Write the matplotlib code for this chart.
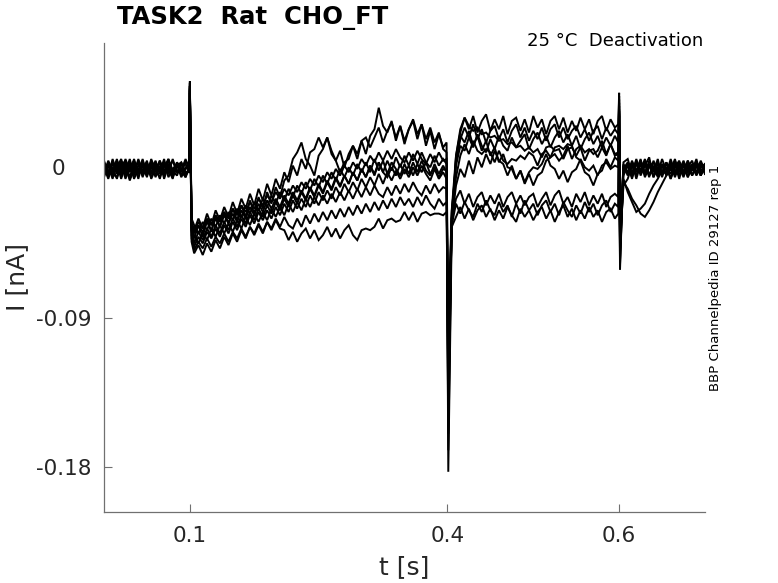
import numpy as np
import matplotlib
matplotlib.use("Agg")
import matplotlib.pyplot as plt
import matplotlib.transforms as mtransforms

# ---- sample times (s) ----
t_s = np.concatenate([
    np.round(np.arange(0.000, 0.0951, 0.005), 3),   # pre-step baseline (20)
    [0.099, 0.100, 0.102],                            # step-on transient (3)
    np.round(np.arange(0.105, 0.3951, 0.005), 3),   # test pulse (59)
    [0.399, 0.401, 0.405],                            # step transient (3)
    np.round(np.arange(0.410, 0.5951, 0.005), 3),   # deactivation step (38)
    [0.599, 0.600, 0.601, 0.605],                     # step-off transient (4)
    np.round(np.arange(0.610, 0.7001, 0.005), 3),   # post baseline (19)
])

# ---- sweep currents (pA) ----
sweep_1 = ([3, -5, 6, -2, 4, -6, 1, 5, -3, 2, -4, 6, -1, -5, 3, 0, -6, 4, -2, 5]
           + [2, 53, -38]
           + [-42, -34, -41, -31, -38, -28, -35, -26, -33, -24,
              -31, -22, -29, -19, -27, -17, -24, -14, -21, -11,
              -17, -7, -4, 6, 10, 16, 6, 2, -4, 8,
              12, 19, 11, 5, 11, 1, 9, 14, 6, 17,
              9, 20, 24, 37, 26, 22, 29, 17, 26, 15,
              24, 29, 18, 27, 14, 23, 12, 21, 13]
           + [16, -183, -38]
           + [8, 22, 31, 24, 32, 22, 29, 33, 23, 30,
              24, 32, 21, 29, 31, 23, 30, 22, 32, 25,
              30, 21, 29, 32, 24, 31, 22, 29, 23, 31,
              24, 30, 21, 29, 32, 23, 30, 25]
           + [27, 46, -61, 4]
           + [6, -3, 5, -4, 2, 7, -5, 3, -2, 4, -6, 1, 5, -3, 2, -1, 6, -4, 3])
sweep_2 = ([-4, 2, -6, 5, -1, 3, -7, 0, 4, -5, 3, -2, 5, -3, 1, 6, -4, 2, -1, -5]
           + [1, 50, -32]
           + [-37, -30, -36, -27, -34, -25, -31, -23, -29, -20,
              -27, -18, -24, -15, -22, -12, -19, -9, -16, -6,
              -12, -2, -8, 2, -4, 6, 0, 10, 12, 19,
              13, 19, 9, 5, -2, 4, 6, 14, 9, 17,
              19, 13, 19, 25, 16, 23, 28, 19, 26, 17,
              24, 30, 21, 27, 18, 25, 16, 22, 12]
           + [10, -170, -30]
           + [4, 18, 25, 19, 27, 18, 24, 16, 23, 26,
              18, 24, 16, 23, 27, 19, 25, 17, 23, 18,
              25, 17, 24, 27, 19, 25, 18, 23, 26, 19,
              24, 17, 23, 26, 18, 25, 20, 24]
           + [21, 44, -58, 2]
           + [-4, 5, -2, 6, -5, 1, 4, -3, 6, -1, 3, -5, 2, -2, 5, -4, 1, 4, -3])
sweep_3 = ([5, -3, 1, -6, 3, -2, 6, -4, 2, -1, 5, -6, 0, 4, -3, 2, -5, 3, -1, 6]
           + [0, 48, -36]
           + [-45, -38, -43, -36, -41, -34, -39, -32, -37, -30,
              -35, -28, -33, -26, -31, -24, -29, -22, -27, -20,
              -25, -18, -23, -16, -21, -14, -19, -12, -17, -10,
              -15, -8, -13, -6, -11, -4, -9, -2, -7, 0,
              -5, 2, -4, 4, -2, 5, -1, 7, 1, 8,
              2, 9, 3, 10, 4, 1, 8, 2, 6]
           + [3, -160, -25]
           + [8, 24, 31, 26, 23, 25, 21, 22, 19, 20,
              17, 18, 15, 16, 13, 14, 11, 13, 10, 12,
              7, 13, 14, 11, 12, 6, 12, 13, 8, 13,
              5, 11, 12, 7, 13, 8, 15, 9]
           + [10, 42, -55, -2]
           + [3, -6, 4, -1, 6, -4, 2, -5, 3, 0, -3, 5, -2, 4, -5, 1, 3, -4, 2])
sweep_4 = ([-2, 4, -5, 2, -3, 6, -1, 3, -6, 4, -2, 1, -4, 5, -1, 3, -5, 2, 4, -3]
           + [-1, 51, -30]
           + [-34, -39, -32, -37, -30, -35, -28, -33, -26, -31,
              -24, -29, -22, -27, -20, -25, -18, -23, -16, -21,
              -14, -19, -12, -17, -10, -15, -8, -13, -6, -11,
              -4, -9, -2, -7, 0, -5, 1, -4, 3, -2,
              4, -2, 6, -1, 5, -3, 4, 0, -4, 3,
              -3, 4, -2, 5, -1, -4, 3, -3, 2]
           + [-2, -150, -30]
           + [-5, 8, 15, 9, 17, 11, 9, 12, 10, 4,
              11, 5, 3, 6, 5, 8, 6, 10, 8, 2,
              9, 11, 7, 9, 5, 8, 14, 6, 12, 14,
              10, 12, 9, 11, 17, 9, 15, 8]
           + [9, 40, -50, 3]
           + [-2, 4, -6, 3, -3, 5, -1, -4, 2, -3, 6, -2, 1, -5, 3, -1, 4, -3, 2])
sweep_5 = ([1, -6, 3, -1, 5, -4, 2, -3, 6, -2, 0, 4, -5, 2, -3, 5, -1, -4, 3, -2]
           + [-2, 47, -40]
           + [-47, -41, -45, -38, -42, -36, -41, -34, -39, -32,
              -37, -30, -35, -28, -33, -26, -31, -25, -30, -23,
              -28, -21, -26, -19, -24, -18, -23, -16, -21, -14,
              -19, -13, -18, -11, -16, -9, -14, -8, -13, -6,
              -11, -5, -10, -3, -9, -2, -7, -1, -6, 0,
              -5, 1, -4, 2, -3, -7, 0, -6, -2]
           + [-6, -140, -32]
           + [-10, 0, -5, 5, -3, 7, 1, 9, 3, 11,
              5, 3, -4, 2, -6, -1, -8, -2, 1, 0,
              3, 9, 2, 0, -6, -1, -8, -2, 0, 6,
              1, -1, 2, -4, 2, 4, 0, 2]
           + [1, 38, -48, -8]
           + [-12, -18, -22, -27, -29, -25, -20, -14, -9, -4, 2, -3, 4, -2, 1, -4, 3, -1, 2])
sweep_6 = ([-5, 3, -2, 6, -4, 1, -6, 4, -1, 5, -3, 2, 4, -2, 6, -5, 0, 3, -4, 1]
           + [0, 49, -42]
           + [-49, -44, -48, -42, -47, -41, -45, -39, -44, -38,
              -42, -36, -41, -35, -39, -33, -38, -32, -36, -30,
              -35, -29, -34, -36, -30, -35, -28, -33, -27, -32,
              -26, -31, -25, -30, -24, -29, -23, -28, -22, -27,
              -21, -26, -20, -25, -19, -24, -18, -23, -17, -22,
              -18, -23, -17, -22, -16, -21, -24, -18, -22]
           + [-20, -130, -34]
           + [-21, -27, -20, -25, -29, -21, -26, -19, -25, -28,
              -20, -26, -22, -29, -21, -27, -19, -25, -21, -28,
              -22, -19, -26, -21, -28, -20, -25, -29, -22, -27,
              -20, -26, -21, -28, -22, -19, -26, -21]
           + [-23, 36, -45, -10]
           + [-6, 2, -4, 5, -2, 3, -5, 1, -3, 4, -1, 6, -4, 2, -5, 3, -2, 4, -3])
sweep_7 = ([2, -4, 5, -3, 0, 4, -5, 2, -2, 6, -4, 3, -1, 5, -6, 2, -3, 4, 0, -5]
           + [1, 52, -44]
           + [-51, -46, -52, -45, -50, -43, -48, -41, -46, -39,
              -44, -37, -42, -35, -40, -34, -39, -32, -37, -31,
              -36, -37, -43, -38, -44, -39, -36, -42, -37, -43,
              -40, -35, -41, -36, -42, -37, -34, -40, -43, -37,
              -36, -37, -35, -30, -36, -31, -30, -32, -31, -26,
              -31, -26, -32, -27, -26, -28, -27, -27, -28]
           + [-26, -120, -35]
           + [-29, -23, -30, -24, -31, -25, -22, -29, -24, -31,
              -25, -30, -23, -28, -32, -24, -29, -25, -31, -26,
              -23, -30, -25, -32, -26, -22, -29, -24, -31, -25,
              -30, -23, -29, -25, -32, -26, -24, -30]
           + [-27, 35, -44, -6]
           + [-14, -20, -26, -24, -21, -15, -10, -6, -1, -3, 4, -2, 3, -4, 1, 5, -3, 2, -1])
sweep_8 = ([-3, 5, -1, 3, -6, 2, 4, -2, 5, -4, 1, -5, 3, -1, 4, -3, 6, -2, 0, 3]
           + [-1, 46, -34]
           + [-39, -34, -38, -32, -37, -30, -35, -28, -33, -27,
              -32, -25, -30, -23, -28, -21, -26, -19, -24, -18,
              -23, -16, -21, -14, -19, -13, -18, -11, -16, -9,
              -14, -7, -12, -5, -10, -4, -9, -2, -7, 0,
              -5, 2, -3, 4, -2, -5, 1, -4, 3, -3,
              2, -4, 3, -2, 4, -3, 1, -5, 0]
           + [-1, -110, -28]
           + [6, 20, 16, 23, 14, 20, 11, 17, 8, 13,
              4, 9, 1, 0, -6, -1, -9, -3, -10, -4,
              -2, 5, 7, 13, 14, 12, 15, 14, 7, 5,
              -2, -4, -10, -3, -1, 6, 1, 7]
           + [5, 34, -40, 0]
           + [4, -3, 6, -2, 3, -5, 5, -1, 2, -4, 0, 3, -6, 4, -2, 1, -3, 5, -1])
sweep_9 = ([4, -1, -4, 1, 6, -3, 3, -6, 0, 2, -5, 5, -2, 1, -4, 6, -1, 3, -5, 0]
           + [1, 50, -37]
           + [-40, -45, -38, -43, -36, -41, -34, -39, -33, -38,
              -31, -36, -29, -34, -27, -32, -26, -31, -24, -29,
              -23, -28, -21, -26, -20, -25, -18, -23, -17, -22,
              -16, -21, -15, -20, -14, -19, -13, -18, -12, -17,
              -11, -16, -10, -15, -17, -11, -16, -10, -15, -9,
              -14, -8, -13, -16, -10, -15, -9, -14, -11]
           + [-12, -100, -30]
           + [-18, -13, -21, -15, -23, -17, -14, -22, -16, -21,
              -15, -23, -17, -14, -21, -16, -22, -17, -15, -23,
              -18, -14, -22, -16, -13, -21, -17, -23, -15, -20,
              -14, -22, -16, -21, -15, -23, -17, -15]
           + [-17, 33, -38, -4]
           + [2, -5, 3, -2, 5, -4, 0, 4, -3, 1, -6, 3, -1, 5, -2, 2, -4, 1, 3])
sweep_10 = ([0, 3, -3, -5, 2, 5, -2, 6, -3, -1, 4, -3, 2, -6, 3, 0, 5, -2, 4, -4]
            + [0, 48, -33]
            + [-38, -32, -36, -30, -34, -28, -32, -26, -30, -24,
               -28, -22, -26, -20, -24, -18, -22, -16, -20, -14,
               -18, -12, -16, -10, -14, -8, -12, -6, -10, -4,
               -8, -2, -6, 0, -4, 2, -2, 4, 0, 6,
               2, 8, 4, 10, 5, 11, 6, 12, 7, 4,
               10, 5, 11, 6, 3, 9, 4, 10, 5]
            + [6, -90, -26]
            + [2, 14, 11, 19, 13, 21, 14, 10, 18, 12,
               20, 14, 11, 19, 13, 17, 21, 12, 18, 22,
               15, 20, 13, 19, 23, 16, 21, 14, 20, 12,
               18, 22, 15, 20, 13, 19, 14, 20]
            + [16, 32, -36, 2]
            + [-3, 4, -1, 5, -4, 2, -2, 6, -5, 3, 0, -3, 4, -2, 5, -1, 3, -4, 1])

sweeps = [sweep_1, sweep_2, sweep_3, sweep_4, sweep_5,
          sweep_6, sweep_7, sweep_8, sweep_9, sweep_10]

x_ticks = [0.1, 0.4, 0.6]
x_tick_labels = ["0.1", "0.4", "0.6"]
y_ticks = [-0.18, -0.09, 0.0]
y_tick_labels = ["-0.18", "-0.09", ""]

title_text = "TASK2  Rat  CHO_FT"
condition_text = "25 \u00b0C  Deactivation"
side_text = "BBP Channelpedia ID 29127 rep 1"

# ---- figure ----
W, H = 778, 583
fig = plt.figure(figsize=(W / 100, H / 100), dpi=100)
ax = fig.add_axes([104 / W, 1 - 512 / H, (705 - 104) / W, (512 - 43) / H])

t = np.asarray(t_s, dtype=float)
for s in sweeps:
    n = min(len(t), len(s))
    ax.plot(t[:n], np.array(s[:n]) / 1000.0, color="black", linewidth=1.4,
            solid_joinstyle="miter")

ax.set_xlim(0.0, 0.7)
ax.set_ylim(-0.2073, 0.0761)

axis_gray = "#707070"
text_gray = "#262626"
for side in ("top", "right"):
    ax.spines[side].set_visible(False)
for side in ("left", "bottom"):
    ax.spines[side].set_color(axis_gray)
    ax.spines[side].set_linewidth(0.9)

ax.set_xticks(x_ticks)
ax.set_xticklabels(x_tick_labels)
ax.set_yticks(y_ticks)
ax.set_yticklabels(y_tick_labels)
ax.tick_params(direction="in", length=6, width=0.8, color=axis_gray,
               labelsize=15.5, labelcolor=text_gray)
ax.tick_params(axis="x", pad=10)
ax.tick_params(axis="y", pad=9)

# "0" label sits further left in the reference
trans0 = mtransforms.blended_transform_factory(fig.transFigure, ax.transData)
fig.text(58 / W, 0.0, "0", transform=trans0, ha="center", va="center",
         fontsize=15.5, color=text_gray)

fig.text(404 / W, 1 - 567 / H, "t [s]", ha="center", va="center",
         fontsize=18, color=text_gray)
fig.text(17 / W, 1 - 277 / H, "I [nA]", ha="center", va="center",
         rotation=90, fontsize=18, color=text_gray)

fig.text(117 / W, 1 - 18 / H, title_text, ha="left", va="center",
         fontsize=17.5, fontweight="bold", color="black")
fig.text(703 / W, 1 - 41 / H, condition_text, ha="right", va="center",
         fontsize=13, color="black")
fig.text(716 / W, 1 - 278 / H, side_text, ha="center", va="center",
         rotation=90, fontsize=9.5, color="black")

fig.savefig("out.png", dpi=100)
